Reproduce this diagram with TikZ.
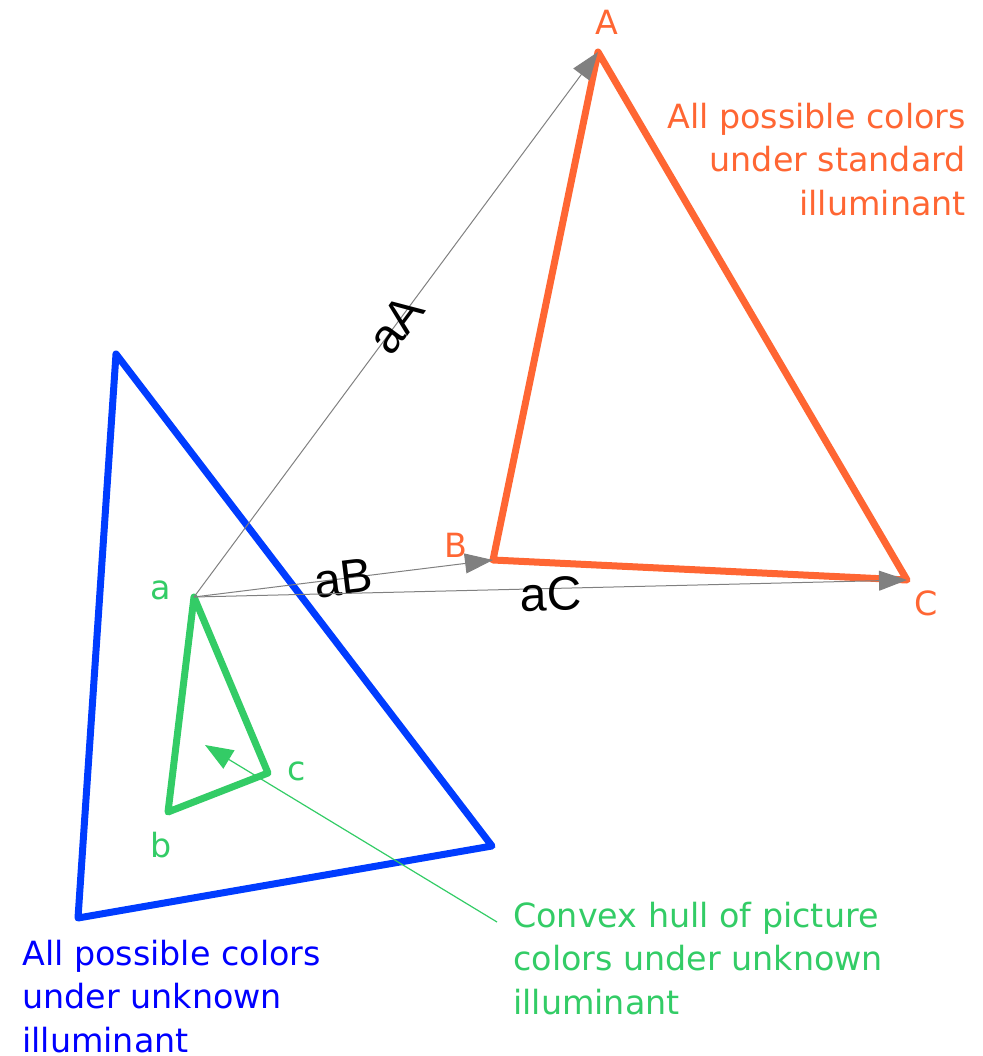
\documentclass[tikz,border=0pt]{standalone}
\usepackage{fontspec}
\setmainfont{DejaVu Sans}
\newfontfamily\vecfont{Liberation Sans}
\usepackage{xcolor}
\usepackage{tikz}
\usetikzlibrary{arrows.meta, positioning, calc}
\definecolor{stddraw}{HTML}{FF6633}
\definecolor{unkdraw}{HTML}{003CFF}
\definecolor{unktext}{HTML}{0000FF}
\definecolor{hulldraw}{HTML}{33CC66}
\definecolor{vecdraw}{HTML}{808080}
\tikzset{
  tri/.style={line width=5.25pt, line join=round},
  vlab/.style={font=\fontsize{25}{32.5}\selectfont, inner sep=0pt},
  note/.style={vlab, align=left},
  veclab/.style={font=\vecfont\fontsize{36}{40}\selectfont, inner sep=0pt, text=black},
  arr/.style={-{Triangle[length=21pt, width=15pt]}, line width=0.75pt, draw=vecdraw},
  ptr/.style={-{Triangle[length=21pt, width=16pt]}, line width=0.9pt, draw=hulldraw},
}
\begin{document}
\begin{tikzpicture}[x=0.75pt, y=-0.75pt]
  \useasboundingbox (0,0) rectangle (982,1056);
  \coordinate (A) at (598,52);
  \coordinate (B) at (493,560);
  \coordinate (C) at (907,580);
  \coordinate (u1) at (116,354);
  \coordinate (u2) at (492,846);
  \coordinate (u3) at (78,918);
  \coordinate (a) at (194,597);
  \coordinate (b) at (168,812);
  \coordinate (c) at (268,773);
  \draw[tri, draw=unkdraw] (u1) -- (u2) -- (u3) -- cycle;
  \draw[tri, draw=stddraw] (A) -- (B) -- (C) -- cycle;
  \draw[tri, draw=hulldraw] (a) -- (c) -- (b) -- cycle;
  \draw[arr] (a) -- node[veclab, sloped, midway] (laA) {aA} (A);
  \draw[arr] (a) -- node[veclab, sloped, midway] (laB) {aB} (B);
  \draw[arr] (a) -- node[veclab, sloped, pos=0.5, yshift=-4pt] (laC) {aC} (C);
  \node[vlab, text=stddraw] (nA) at (607,22) {A};
  \node[vlab, text=stddraw] (nB) at (456,545) {B};
  \node[vlab, text=stddraw] (nC) at (926,603) {C};
  \node[vlab, text=hulldraw] (na) at (161,590) {a};
  \node[vlab, text=hulldraw] (nb) at (161,845) {b};
  \node[vlab, text=hulldraw] (nc) at (297,771) {c};
  \node[note, align=right, anchor=north east, text=stddraw] (stdnote) at (966,103)
    {All possible colors\\under standard\\illuminant};
  \node[note, anchor=north west, text=unktext] (unknote) at (22,940)
    {All possible colors\\under unknown\\illuminant};
  \node[note, anchor=north west, text=hulldraw] (hullnote) at (513,902)
    {Convex hull of picture\\colors under unknown\\illuminant};
  \coordinate (hullfrom) at (497,922);
  \coordinate (hullto) at (205,745);
  \draw[ptr] (hullfrom) -- (hullto);
\end{tikzpicture}
\end{document}
